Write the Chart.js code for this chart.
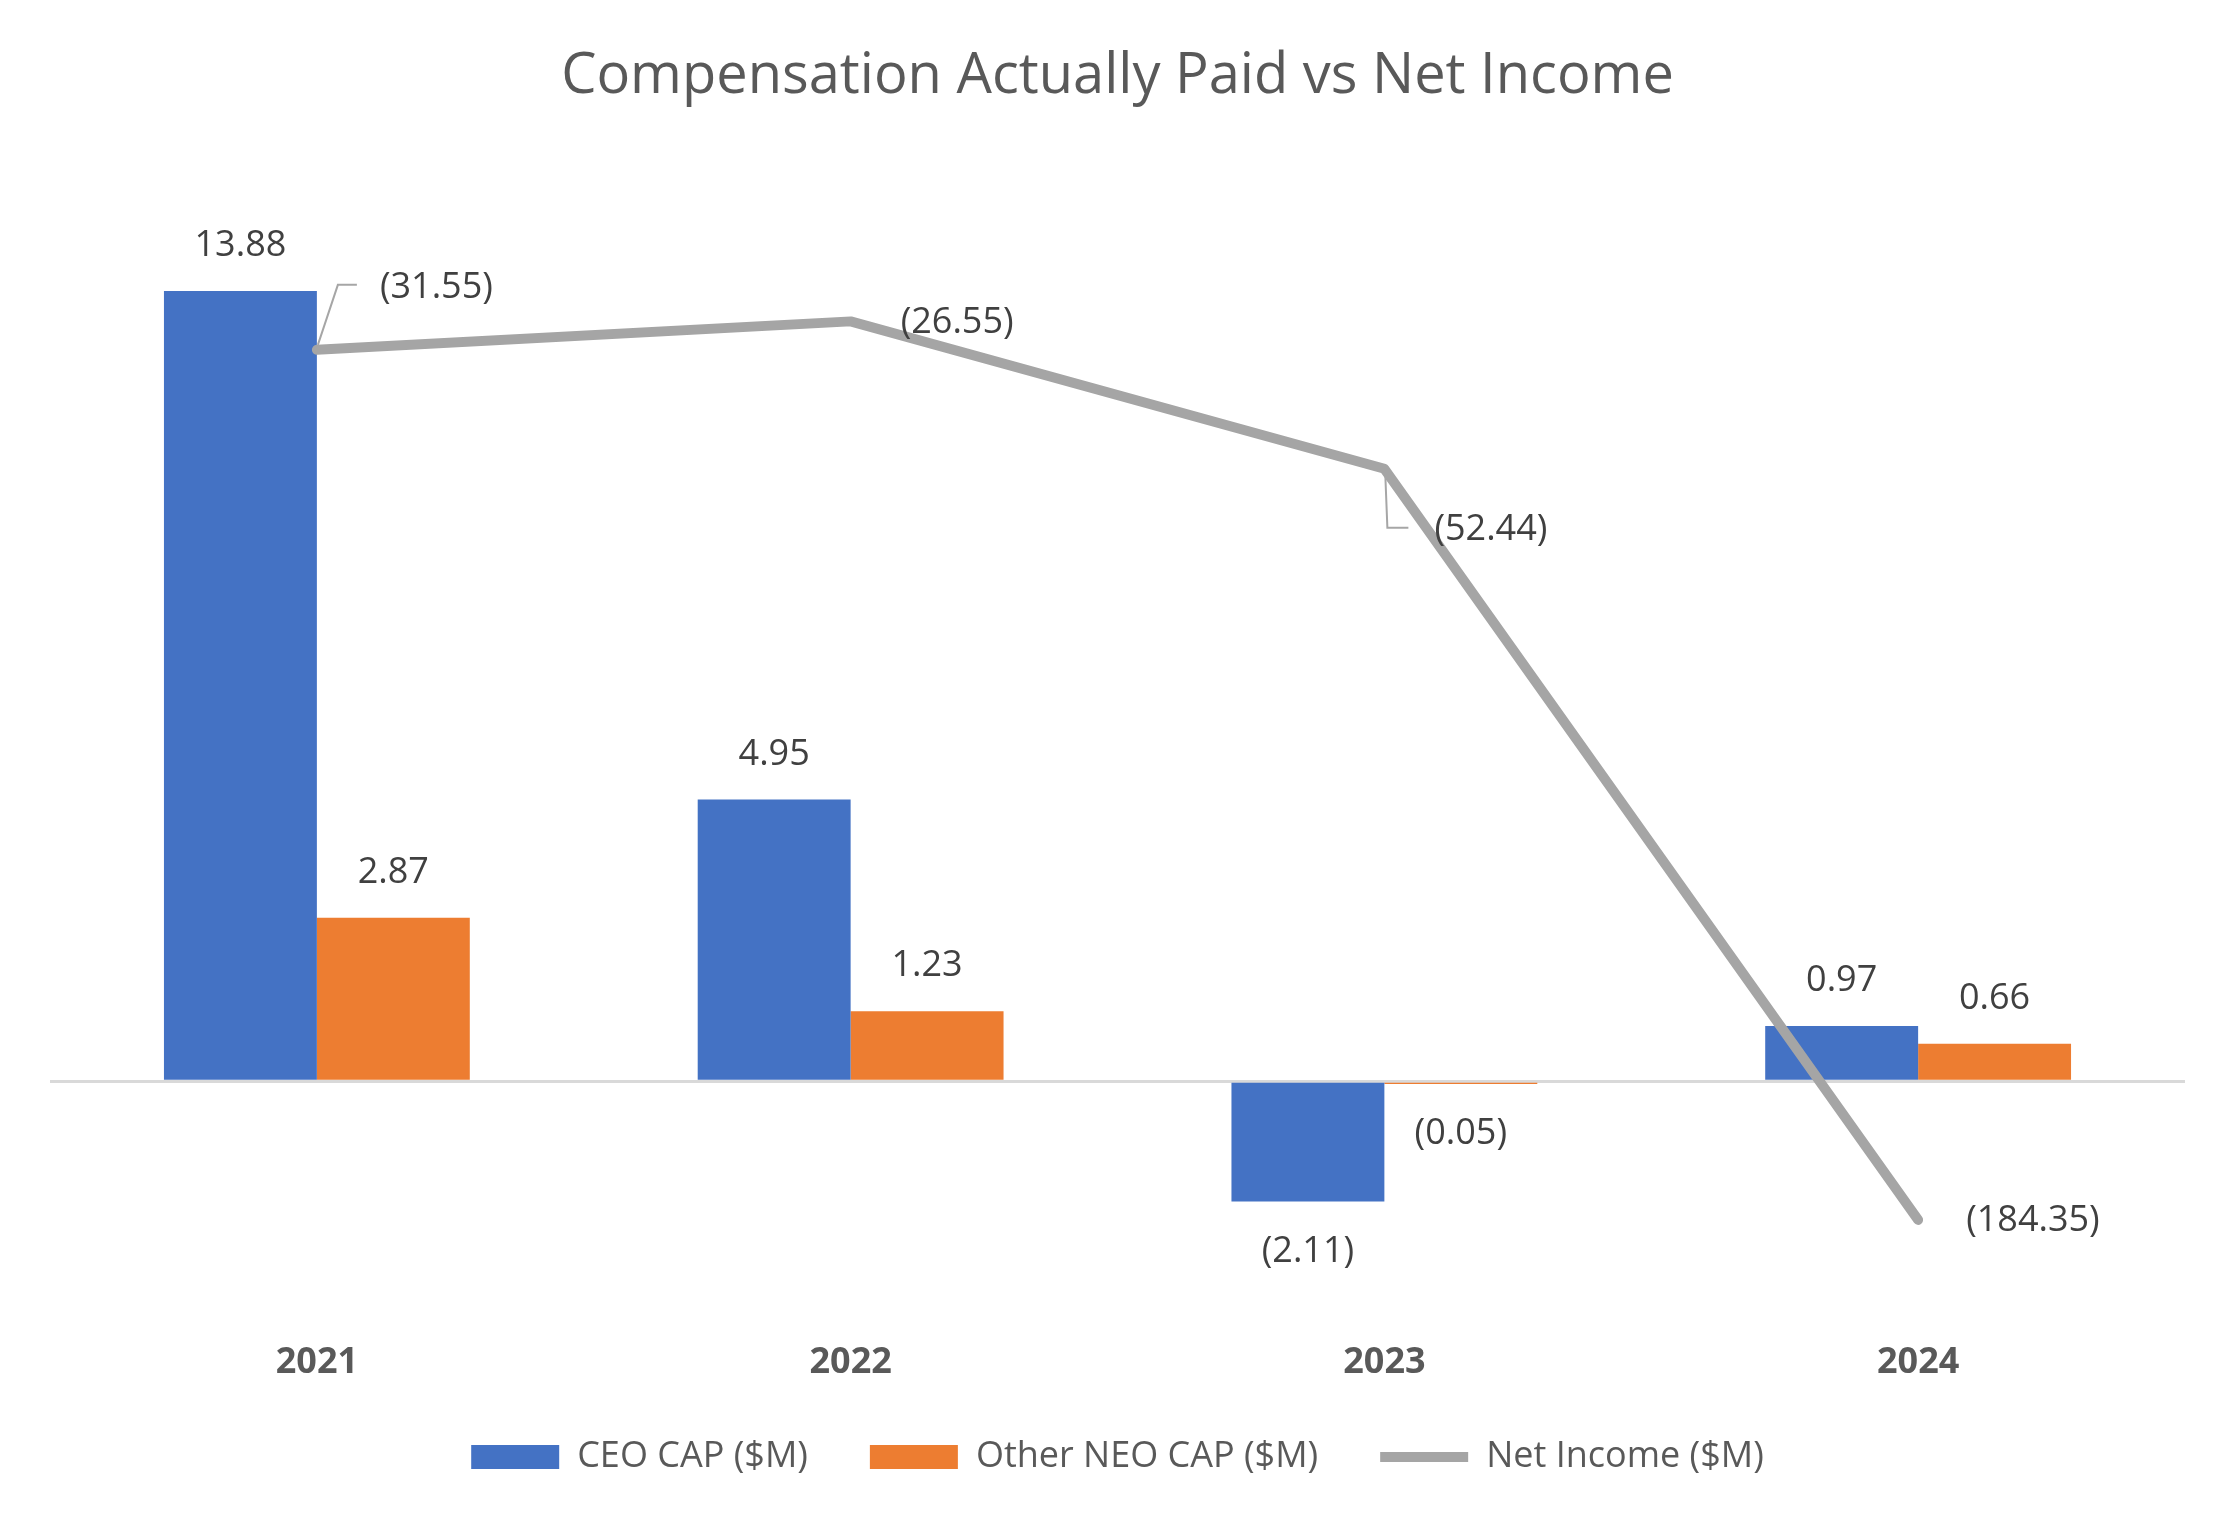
<!DOCTYPE html>
<html lang="en">
<head>
<meta charset="UTF-8">
<title>Compensation Actually Paid vs Net Income</title>
<script src="https://cdn.jsdelivr.net/npm/chart.js@4.4.1/dist/chart.umd.min.js"></script>
<style>
html, body {
  margin: 0;
  padding: 0;
  background: #fff;
  overflow: hidden;
}
.chart-box {
  width: 2238px;
  height: 1520px;
}
</style>
</head>
<body>
<div class="chart-box"><canvas id="capChart" width="2238" height="1520"></canvas></div>
<script>
// values
const years = ['2021', '2022', '2023', '2024']
const ceoCap = [13.88, 4.95, -2.11, 0.97]
const otherNeoCap = [2.87, 1.23, -0.05, 0.66]
const netIncome = [-31.55, -26.55, -52.44, -184.35]

// where the net income labels sit, relative to their point (two of them hang on leader lines)
const netLabelPlacement = [
  { dx: 63, dy: -62, leader: [[1, -5], [21, -65], [40, -65]] },
  { dx: 50, dy: 1 },
  { dx: 50, dy: 61, leader: [[1, 8], [3, 59], [24, 59]] },
  { dx: 48, dy: 1 }
]

const FONT = '"Open Sans", "Noto Sans", sans-serif'

function fmt(v) {
  return v < 0 ? '(' + Math.abs(v).toFixed(2) + ')' : v.toFixed(2)
}

const valueLabels = {
  id: 'valueLabels',
  afterDatasetsDraw(chart) {
    const ctx = chart.ctx
    ctx.save()
    ctx.font = '36px ' + FONT
    ctx.fillStyle = '#404040'
    ctx.textBaseline = 'middle'

    // bar labels, above positive bars and below negative ones
    for (const i of [0, 1]) {
      const meta = chart.getDatasetMeta(i)
      const data = chart.data.datasets[i].data
      meta.data.forEach((bar, j) => {
        const v = data[j]
        ctx.textAlign = 'center'
        ctx.fillText(fmt(v), bar.x, v >= 0 ? bar.y - 45 : bar.y + 50)
      })
    }

    // net income labels
    chart.getDatasetMeta(2).data.forEach((pt, j) => {
      const p = netLabelPlacement[j]
      if (p.leader) {
        ctx.strokeStyle = '#a6a6a6'
        ctx.lineWidth = 2
        ctx.beginPath()
        p.leader.forEach(([lx, ly], k) => {
          if (k === 0) ctx.moveTo(pt.x + lx, pt.y + ly)
          else ctx.lineTo(pt.x + lx, pt.y + ly)
        })
        ctx.stroke()
      }
      ctx.textAlign = 'left'
      ctx.fillText(fmt(netIncome[j]), pt.x + p.dx, pt.y + p.dy)
    })
    ctx.restore()
  }
}

new Chart(document.getElementById('capChart'), {
  type: 'bar',
  data: {
    labels: years,
    datasets: [
      {
        label: 'CEO CAP ($M)',
        data: ceoCap,
        backgroundColor: '#4472c4',
        yAxisID: 'y',
        order: 1,
        pointStyle: 'rect',
        categoryPercentage: 0.573,
        barPercentage: 1
      },
      {
        label: 'Other NEO CAP ($M)',
        data: otherNeoCap,
        backgroundColor: '#ed7d31',
        yAxisID: 'y',
        order: 1,
        pointStyle: 'rect',
        categoryPercentage: 0.573,
        barPercentage: 1
      },
      {
        type: 'line',
        label: 'Net Income ($M)',
        data: netIncome,
        borderColor: '#a5a5a5',
        backgroundColor: '#a5a5a5',
        borderWidth: 10,
        borderCapStyle: 'round',
        borderJoinStyle: 'round',
        pointRadius: 0,
        pointHoverRadius: 0,
        pointStyle: 'line',
        tension: 0,
        yAxisID: 'y1',
        order: 0
      }
    ]
  },
  options: {
    responsive: false,
    animation: false,
    devicePixelRatio: 1,
    layout: {
      padding: { left: 50, right: 53, top: 0, bottom: 35 }
    },
    plugins: {
      title: {
        display: true,
        text: 'Compensation Actually Paid vs Net Income',
        color: '#595959',
        font: { family: FONT, size: 56, weight: 'normal' },
        padding: { top: 43, bottom: 60 }
      },
      legend: {
        position: 'bottom',
        labels: {
          color: '#595959',
          font: { family: FONT, size: 36 },
          usePointStyle: true,
          pointStyleWidth: 88,
          boxHeight: 24,
          padding: 62,
          sort: (a, b) => a.datasetIndex - b.datasetIndex,
          generateLabels(chart) {
            const items = Chart.defaults.plugins.legend.labels.generateLabels(chart)
            items.forEach(it => {
              if (it.datasetIndex === 2) it.lineWidth = 10
            })
            return items
          }
        }
      },
      tooltip: { enabled: false }
    },
    scales: {
      x: {
        grid: { display: false, drawTicks: false },
        border: { display: false },
        ticks: {
          color: '#595959',
          font: { family: FONT, size: 36, weight: 'bold' },
          padding: 32
        },
        // keep the axis band tight so the legend sits where Excel put it
        afterFit(scale) {
          scale.height = 68
        }
      },
      y: {
        min: -4,
        max: 16,
        ticks: { display: false, stepSize: 4 },
        border: { display: false },
        grid: {
          drawTicks: false,
          color: c => c.tick.value === 0 ? '#d9d9d9' : 'rgba(0,0,0,0)',
          lineWidth: c => c.tick.value === 0 ? 3 : 0
        }
      },
      y1: {
        display: false,
        position: 'right',
        min: -200,
        max: 0
      }
    }
  },
  plugins: [valueLabels]
})
</script>
</body>
</html>
